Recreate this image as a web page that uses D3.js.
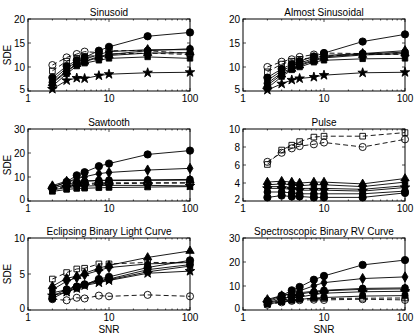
<!DOCTYPE html>
<html><head><meta charset="utf-8">
<script src="https://cdn.jsdelivr.net/npm/d3@7"></script>
<style>body{margin:0;background:#fff}svg{display:block}text{font-family:"Liberation Sans",Arial,sans-serif;fill:#000}</style>
</head><body><svg id="c" width="415" height="335"></svg>
<script>
const snr = [2, 3, 4, 5, 7.5, 10, 30, 100];
const titles = ["Sinusoid", "Almost Sinusoidal", "Sawtooth", "Pulse", "Eclipsing Binary Light Curve", "Spectroscopic Binary RV Curve"];
const yDomains = [[5, 20], [5, 20], [0, 30], [2, 10], [0, 10], [0, 30]];
const yTicks = [[5, 10, 15, 20], [5, 10, 15, 20], [0, 10, 20, 30], [2, 4, 6, 8, 10], [0, 5, 10], [0, 10, 20, 30]];
const xTicks = [1, 10, 100];
const seriesNames = ["circleA", "diamond", "circleB", "triangle", "square", "star", "openCircle", "openSquare"];

const circleA = [
  [7.8, 10.2, 11.4, 12.0, 13.4, 14.2, 16.4, 17.2],
  [7.8, 9.6, 10.6, 11.2, 12.2, 12.9, 15.3, 16.8],
  [5.6, 8.0, 10.7, 12.0, 14.5, 15.6, 19.4, 21.0],
  [2.4, 2.6, 2.5, 2.5, 2.4, 2.4, 2.4, 2.9],
  [1.6, 2.6, 3.1, 3.5, 4.3, 4.6, 5.9, 6.9],
  [3.8, 6.0, 8.2, 9.6, 12.6, 14.2, 18.8, 20.8]];
const diamond = [
  [7.2, 9.8, 11.0, 11.6, 12.6, 13.2, 13.6, 13.6],
  [7.2, 9.2, 10.2, 10.8, 11.8, 12.4, 12.8, 13.4],
  [5.8, 7.8, 9.4, 10.1, 11.4, 11.9, 12.9, 13.6],
  [3.8, 3.9, 3.8, 3.7, 3.8, 3.8, 3.6, 4.1],
  [2.8, 4.0, 4.5, 4.9, 5.5, 5.9, 6.4, 6.6],
  [3.4, 5.4, 7.2, 8.0, 10.1, 11.4, 13.1, 13.8]];
const circleB = [
  [6.8, 9.2, 10.6, 11.2, 12.2, 12.6, 13.4, 13.8],
  [6.6, 8.8, 9.8, 10.5, 11.5, 12.1, 12.7, 13.1],
  [5.2, 7.0, 7.8, 8.2, 8.6, 8.7, 8.8, 9.0],
  [3.0, 3.0, 2.9, 2.8, 2.8, 2.8, 2.8, 3.1],
  [1.9, 2.9, 3.3, 3.6, 4.1, 4.3, 5.6, 6.3],
  [3.0, 4.6, 5.8, 6.6, 7.6, 8.2, 9.0, 9.2]];
const triangle = [
  [6.6, 9.0, 10.6, 11.1, 12.0, 12.4, 12.9, 13.0],
  [6.2, 8.4, 9.6, 10.3, 11.3, 11.9, 12.5, 12.8],
  [6.4, 8.3, 8.4, 8.4, 8.5, 8.5, 8.6, 8.7],
  [4.1, 4.2, 4.1, 4.0, 4.1, 4.1, 3.9, 4.5],
  [3.3, 4.4, 4.7, 5.1, 5.8, 6.2, 7.3, 8.2],
  [4.4, 6.0, 7.0, 7.2, 7.8, 8.0, 8.6, 8.8]];
const square = [
  [6.0, 8.6, 10.2, 10.8, 11.4, 11.8, 12.1, 11.8],
  [5.6, 8.0, 9.4, 10.0, 11.0, 11.4, 11.7, 11.8],
  [4.0, 4.8, 5.2, 5.3, 5.5, 5.6, 5.8, 6.0],
  [3.6, 3.6, 3.5, 3.4, 3.4, 3.4, 3.3, 3.7],
  [2.4, 2.8, 3.2, 3.5, 4.0, 4.2, 5.3, 6.1],
  [2.4, 3.4, 4.0, 4.4, 5.0, 5.2, 5.8, 6.0]];
const star = [
  [5.4, 7.2, 7.7, 7.6, 8.2, 8.5, 8.8, 8.9],
  [5.2, 6.5, 7.3, 7.6, 7.9, 8.3, 8.8, 8.9],
  [4.6, 5.6, 6.0, 6.2, 6.4, 6.5, 6.5, 6.3],
  [3.4, 3.4, 3.3, 3.2, 3.2, 3.2, 3.1, 3.5],
  [2.0, 2.5, 3.0, 3.4, 3.8, 4.1, 5.1, 5.4],
  [2.8, 4.0, 4.8, 5.4, 6.4, 7.0, 7.6, 7.8]];
const openCircle = [
  [10.4, 12.0, 12.7, 13.2, 13.0, 13.4, 13.4, 12.8],
  [10.0, 11.1, 11.6, 12.1, 12.6, 12.9, 12.8, 12.6],
  [5.0, 6.4, 7.0, 7.3, 7.5, 7.6, 7.6, 7.5],
  [6.35, 7.36, 7.85, 8.1, 8.3, 8.5, 8.0, 8.85],
  [1.5, 1.35, 1.7, 1.6, 2.0, 1.9, 2.1, 1.9],
  [2.2, 3.2, 3.8, 4.1, 4.3, 4.2, 4.5, 4.2]];
const openSquare = [
  [9.2, 11.2, 11.8, 12.2, 12.4, 12.7, 12.9, 12.6],
  [9.0, 10.6, 11.2, 11.6, 12.0, 12.3, 12.6, 12.8],
  [4.8, 6.0, 6.6, 6.9, 7.1, 7.2, 7.4, 7.6],
  [6.06, 7.66, 8.2, 8.6, 9.1, 9.2, 9.2, 9.6],
  [4.3, 5.2, 5.7, 5.8, 6.4, 6.4, 6.6, 6.6],
  [2.6, 3.6, 4.2, 4.6, 4.8, 4.8, 4.9, 5.0]];

const seriesData = [circleA, diamond, circleB, triangle, square, star, openCircle, openSquare];
const styles = [
  {sym: d3.symbolCircle, size: 42, fill: "#000", dash: null},
  {sym: d3.symbolDiamond, size: 30, fill: "#000", dash: null},
  {sym: d3.symbolCircle, size: 36, fill: "#000", dash: null},
  {sym: d3.symbolTriangle, size: 30, fill: "#000", dash: null},
  {sym: d3.symbolSquare, size: 30, fill: "#000", dash: null},
  {sym: d3.symbolStar, size: 28, fill: "#000", dash: null},
  {sym: d3.symbolCircle, size: 40, fill: "none", dash: "5,3"},
  {sym: d3.symbolSquare, size: 32, fill: "none", dash: "5,3"}];

const lefts = [28, 243], tops = [19, 129, 238], W = 162, H = 72;
const svg = d3.select("#c");

titles.forEach((t, i) => {
  const col = i % 2, row = Math.floor(i / 2);
  const x0 = lefts[col], y0 = tops[row];
  const x = d3.scaleLog().domain([1, 100]).range([0, W]);
  const y = d3.scaleLinear().domain(yDomains[i]).range([H, 0]);
  const g = svg.append("g").attr("transform", `translate(${x0},${y0})`);

  const minor = [];
  for (let d = 1; d < 100; d *= 10) for (let k = 2; k <= 9; k++) minor.push(d * k);
  const tk = g.append("g").attr("stroke", "#000").attr("stroke-width", 0.7);
  xTicks.forEach(v => {
    tk.append("line").attr("x1", x(v)).attr("x2", x(v)).attr("y1", H).attr("y2", H - 3);
    tk.append("line").attr("x1", x(v)).attr("x2", x(v)).attr("y1", 0).attr("y2", 3);
  });
  minor.forEach(v => {
    tk.append("line").attr("x1", x(v)).attr("x2", x(v)).attr("y1", H).attr("y2", H - 1.5);
    tk.append("line").attr("x1", x(v)).attr("x2", x(v)).attr("y1", 0).attr("y2", 1.5);
  });
  yTicks[i].forEach(v => {
    tk.append("line").attr("x1", 0).attr("x2", 3).attr("y1", y(v)).attr("y2", y(v));
    tk.append("line").attr("x1", W).attr("x2", W - 3).attr("y1", y(v)).attr("y2", y(v));
  });

  xTicks.forEach(v => g.append("text").attr("x", x(v)).attr("y", H + 11)
    .attr("text-anchor", "middle").attr("font-size", 10).text(v));
  yTicks[i].forEach((v, j) => g.append("text").attr("x", -3)
    .attr("y", y(v) + 3.5 - (j === 0 ? 2 : 0)).attr("text-anchor", "end").attr("font-size", 10).text(v));

  const line = d3.line().x((d, k) => x(snr[k])).y(d => y(d));
  seriesData.forEach((sd, s) => {
    const st = styles[s];
    const vals = sd[i];
    g.append("path").attr("d", line(vals)).attr("fill", "none").attr("stroke", "#000")
      .attr("stroke-width", 0.9).attr("stroke-dasharray", st.dash);
    g.selectAll(null).data(vals).join("path")
      .attr("transform", (d, k) => `translate(${x(snr[k])},${y(d)})`)
      .attr("d", d3.symbol().type(st.sym).size(st.size))
      .attr("fill", st.fill).attr("stroke", "#000").attr("stroke-width", 0.9);
  });

  g.append("rect").attr("width", W).attr("height", H).attr("fill", "none")
    .attr("stroke", "#000").attr("stroke-width", 1);

  g.append("text").attr("x", W / 2).attr("y", -3).attr("text-anchor", "middle")
    .attr("font-size", 10).text(t);
  if (col === 0) g.append("text").attr("transform", `translate(-17,${H / 2}) rotate(-90)`)
    .attr("text-anchor", "middle").attr("font-size", 10).text("SDE");
  if (row === 2) g.append("text").attr("x", x(10)).attr("y", H + 22.5)
    .attr("text-anchor", "middle").attr("font-size", 10).text("SNR");
});
</script></body></html>
